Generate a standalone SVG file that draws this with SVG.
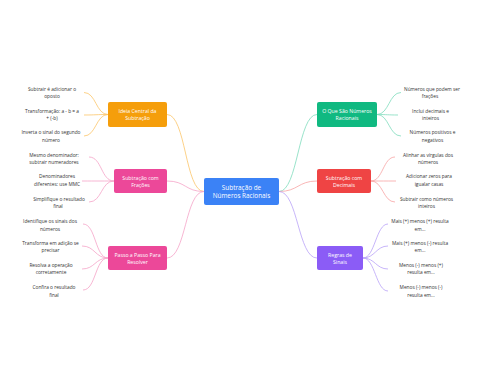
<svg xmlns="http://www.w3.org/2000/svg" width="480" height="384" viewBox="0 0 480 384">
<style>
  .leaf{font-family:"Open Sans","Liberation Sans",sans-serif;font-size:4.8px;fill:#333;text-anchor:middle}
  .nt{font-family:"Open Sans","Liberation Sans",sans-serif;font-size:5.2px;fill:#fff;text-anchor:middle}
  .ct{font-family:"Open Sans","Liberation Sans",sans-serif;font-size:6.4px;fill:#fff;text-anchor:middle}
  .c{fill:none;stroke-width:0.8}
  .or{stroke:#fbc56a}.pk{stroke:#f5a3c8}.gr{stroke:#7fdcbd}.rd{stroke:#f7a3a3}.pu{stroke:#b9a2f7}
</style>
<rect width="480" height="384" fill="#fff"/>
<g id="connectors">
  <path class="c or" d="M204,191.5 C185,191.5 186,114.5 167,114.5"/>
  <path class="c pk" d="M204,191.5 C185,191.5 186,181 167,181"/>
  <path class="c pk" d="M204,191.5 C185,191.5 186,258 167,258"/>
  <path class="c gr" d="M279,191.5 C298,191.5 298,114.5 317,114.5"/>
  <path class="c rd" d="M279,191.5 C298,191.5 298,181 317,181"/>
  <path class="c pu" d="M279,191.5 C298,191.5 298,258 317,258"/>

  <path class="c or" d="M108,114.5 C96,114.5 96,92.5 84,92.5"/>
  <path class="c or" d="M108,114.5 C96,114.5 96,115 84,115"/>
  <path class="c or" d="M108,114.5 C96,114.5 96,136 84,136"/>

  <path class="c pk" d="M114,181 C101,181 102,157 89,157"/>
  <path class="c pk" d="M114,181 C98,181 98,181 82,181"/>
  <path class="c pk" d="M114,181 C101,181 102,202 89,202"/>

  <path class="c pk" d="M108,258 C95,258 96,224 83,224"/>
  <path class="c pk" d="M108,258 C95,258 95,246 82,246"/>
  <path class="c pk" d="M108,258 C95,258 95,269 82,269"/>
  <path class="c pk" d="M108,258 C95,258 96,290 83,290"/>

  <path class="c gr" d="M377,114.5 C389,114.5 389,92.5 401,92.5"/>
  <path class="c gr" d="M377,114.5 C387,114.5 388,115 398,115"/>
  <path class="c gr" d="M377,114.5 C389,114.5 389,136 401,136"/>

  <path class="c rd" d="M371,181 C383,181 383,157 395,157"/>
  <path class="c rd" d="M371,181 C383,181 384,181 396,181"/>
  <path class="c rd" d="M371,181 C383,181 383,202 395,202"/>

  <path class="c pu" d="M363,258 C375,258 376,224 388,224"/>
  <path class="c pu" d="M363,258 C375,258 376,246 388,246"/>
  <path class="c pu" d="M363,258 C375,258 376,269 388,269"/>
  <path class="c pu" d="M363,258 C375,258 376,291 388,291"/>
</g>
<g id="center">
  <rect x="204" y="178" width="75" height="27" rx="2" fill="#3b82f6"/>
  <text class="ct" x="241.5" y="189.5">Subtração de</text>
  <text class="ct" x="241.5" y="198">Números Racionais</text>
</g>
<g id="ideia">
  <rect x="108" y="102" width="59" height="25" rx="2" fill="#f59e0b"/>
  <text class="nt" x="137.5" y="113">Ideia Central da</text>
  <text class="nt" x="137.5" y="120">Subtração</text>
</g>
<g id="fracoes">
  <rect x="114" y="169" width="53" height="24" rx="2" fill="#ec4899"/>
  <text class="nt" x="140.5" y="179.5">Subtração com</text>
  <text class="nt" x="140.5" y="186.5">Frações</text>
</g>
<g id="passo">
  <rect x="108" y="246" width="59" height="24" rx="2" fill="#ec4899"/>
  <text class="nt" x="137.5" y="256.5">Passo a Passo Para</text>
  <text class="nt" x="137.5" y="263.5">Resolver</text>
</g>
<g id="oque">
  <rect x="317" y="102" width="60" height="25" rx="2" fill="#10b981"/>
  <text class="nt" x="347" y="113">O Que São Números</text>
  <text class="nt" x="347" y="120">Racionais</text>
</g>
<g id="decimais">
  <rect x="317" y="169" width="54" height="24" rx="2" fill="#ef4444"/>
  <text class="nt" x="344" y="179.5">Subtração com</text>
  <text class="nt" x="344" y="186.5">Decimais</text>
</g>
<g id="regras">
  <rect x="317" y="246" width="46" height="24" rx="2" fill="#8b5cf6"/>
  <text class="nt" x="340" y="256.5">Regras de</text>
  <text class="nt" x="340" y="263.5">Sinais</text>
</g>
<g id="leaf-l1"><text class="leaf" x="52" y="91">Subtrair é adicionar o</text><text class="leaf" x="52" y="97.8">oposto</text></g>
<g id="leaf-l2"><text class="leaf" x="52" y="113.4">Transformação: a - b = a</text><text class="leaf" x="52" y="120.1">+ (-b)</text></g>
<g id="leaf-l3"><text class="leaf" x="51" y="134.4">Inverta o sinal do segundo</text><text class="leaf" x="51" y="141.8">número</text></g>
<g id="leaf-l4"><text class="leaf" x="54" y="157">Mesmo denominador:</text><text class="leaf" x="54" y="164.4">subtrair numeradores</text></g>
<g id="leaf-l5"><text class="leaf" x="57" y="178.4">Denominadores</text><text class="leaf" x="57" y="185.8">diferentes: use MMC</text></g>
<g id="leaf-l6"><text class="leaf" x="59" y="201">Simplifique o resultado</text><text class="leaf" x="58" y="208.4">final</text></g>
<g id="leaf-l7"><text class="leaf" x="50" y="223.4">Identifique os sinais dos</text><text class="leaf" x="50" y="230.8">números</text></g>
<g id="leaf-l8"><text class="leaf" x="50.5" y="245">Transforma em adição se</text><text class="leaf" x="50.5" y="252.4">precisar</text></g>
<g id="leaf-l9"><text class="leaf" x="51" y="267.4">Resolva a operação</text><text class="leaf" x="51" y="274.4">corretamente</text></g>
<g id="leaf-l10"><text class="leaf" x="54" y="289.4">Confira o resultado</text><text class="leaf" x="54" y="296.8">final</text></g>
<g id="leaf-r1"><text class="leaf" x="432" y="91">Números que podem ser</text><text class="leaf" x="430" y="97.8">frações</text></g>
<g id="leaf-r2"><text class="leaf" x="430.5" y="113.4">Inclui decimais e</text><text class="leaf" x="430.5" y="120.1">inteiros</text></g>
<g id="leaf-r3"><text class="leaf" x="432.5" y="134.4">Números positivos e</text><text class="leaf" x="432.5" y="141.8">negativos</text></g>
<g id="leaf-r4"><text class="leaf" x="428" y="157">Alinhar as vírgulas dos</text><text class="leaf" x="428" y="164.4">números</text></g>
<g id="leaf-r5"><text class="leaf" x="429" y="178.4">Adicionar zeros para</text><text class="leaf" x="429" y="185.8">igualar casas</text></g>
<g id="leaf-r6"><text class="leaf" x="426.5" y="201">Subtrair como números</text><text class="leaf" x="426.5" y="208.4">inteiros</text></g>
<g id="leaf-r7"><text class="leaf" x="420" y="223.4">Mais (+) menos (+) resulta</text><text class="leaf" x="420" y="230.8">em...</text></g>
<g id="leaf-r8"><text class="leaf" x="420" y="245">Mais (+) menos (-) resulta</text><text class="leaf" x="420" y="252.4">em...</text></g>
<g id="leaf-r9"><text class="leaf" x="421" y="267.4">Menos (-) menos (+)</text><text class="leaf" x="421" y="274.4">resulta em...</text></g>
<g id="leaf-r10"><text class="leaf" x="421" y="289.4">Menos (-) menos (-)</text><text class="leaf" x="421" y="296.8">resulta em...</text></g>
</svg>
